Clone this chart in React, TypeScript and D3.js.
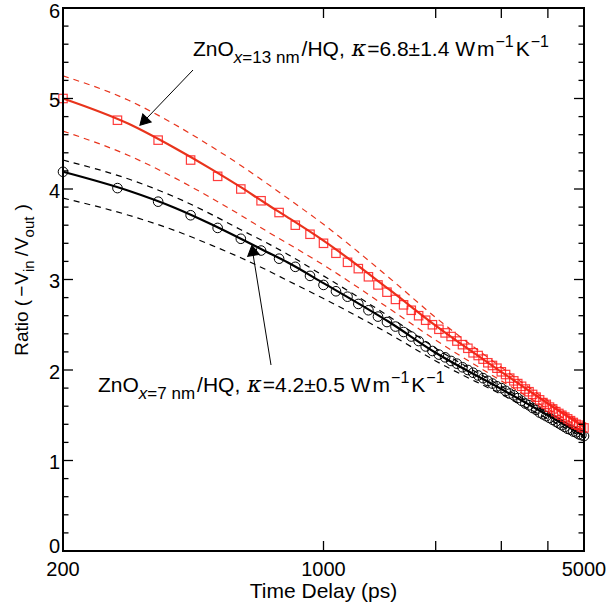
import React from 'react';
import * as d3 from 'd3';

// measured points, 80 ps steps
const timeDelay = [
  200, 280, 360, 440, 520, 600, 680, 760, 840, 920, 1000, 1080, 1160, 1240, 1320, 1400,
  1480, 1560, 1640, 1720, 1800, 1880, 1960, 2040, 2120, 2200, 2280, 2360, 2440, 2520,
  2600, 2680, 2760, 2840, 2920, 3000, 3080, 3160, 3240, 3320, 3400, 3480, 3560, 3640,
  3720, 3800, 3880, 3960, 4040, 4120, 4200, 4280, 4360, 4440, 4520, 4600, 4680, 4760,
  4840, 4920, 5000,
];
const ratio13nm = [
  5.0, 4.76, 4.54, 4.32, 4.14, 4.0, 3.87, 3.74, 3.6, 3.5, 3.4, 3.29, 3.19, 3.12, 3.03, 2.94,
  2.86, 2.78, 2.72, 2.66, 2.6, 2.55, 2.5, 2.45, 2.41, 2.37, 2.32, 2.28, 2.24, 2.19,
  2.16, 2.12, 2.08, 2.05, 2.02, 1.98, 1.95, 1.91, 1.88, 1.85, 1.82, 1.79, 1.76, 1.73,
  1.7, 1.67, 1.64, 1.62, 1.59, 1.57, 1.54, 1.52, 1.5, 1.48, 1.46, 1.44, 1.42, 1.4,
  1.39, 1.37, 1.36,
];
const ratio7nm = [
  4.19, 4.01, 3.86, 3.71, 3.57, 3.45, 3.32, 3.23, 3.14, 3.04, 2.94, 2.87, 2.81, 2.73, 2.66, 2.59,
  2.53, 2.48, 2.42, 2.37, 2.32, 2.26, 2.21, 2.17, 2.14, 2.1, 2.07, 2.03, 2.0, 1.97,
  1.94, 1.91, 1.88, 1.85, 1.82, 1.8, 1.77, 1.74, 1.72, 1.69, 1.66, 1.63, 1.61, 1.58,
  1.56, 1.53, 1.51, 1.49, 1.47, 1.45, 1.43, 1.41, 1.39, 1.37, 1.35, 1.34, 1.32, 1.31,
  1.29, 1.28, 1.27,
];

// model curves
const fitTime = [200, 300, 400, 500, 600, 700, 800, 1000, 1500, 2000, 3000, 4000, 5000];
const fit13 = [5.0, 4.72, 4.45, 4.22, 4.02, 3.84, 3.69, 3.43, 2.89, 2.49, 1.98, 1.63, 1.37];
const fit13Hi = [5.25, 4.98, 4.71, 4.47, 4.26, 4.07, 3.9, 3.61, 3.02, 2.58, 2.03, 1.66, 1.39];
const fit13Lo = [4.64, 4.37, 4.12, 3.9, 3.71, 3.54, 3.4, 3.16, 2.68, 2.33, 1.88, 1.57, 1.34];
const fit7 = [4.19, 3.98, 3.79, 3.61, 3.45, 3.31, 3.19, 2.96, 2.53, 2.19, 1.79, 1.5, 1.27];
const fit7Hi = [4.32, 4.11, 3.91, 3.72, 3.55, 3.41, 3.28, 3.04, 2.59, 2.24, 1.82, 1.52, 1.28];
const fit7Lo = [3.9, 3.71, 3.54, 3.38, 3.24, 3.11, 2.99, 2.79, 2.4, 2.1, 1.73, 1.46, 1.25];

const xTicks = [1000, 2000, 3000, 4000, 5000];
const xTickLabels = ['200', '1000', '5000'];
const yTicks = [0, 1, 2, 3, 4, 5, 6];

const W = 607;
const H = 611;
const margin = { top: 8, right: 23, bottom: 60, left: 63 };
const font = '"Liberation Sans", Arial, Helvetica, sans-serif';
const RED = '#ff1a1a';
const RED_LINE = '#e8341c';

function Annotation({ x, y, sub, value }: { x: number; y: number; sub: string; value: string }) {
  return (
    <text x={x} y={y} fontSize={21}>
      ZnO<tspan dy={7} fontSize={17}><tspan fontStyle="italic">x</tspan>={sub} nm</tspan>
      <tspan dy={-7} dx={2}>/HQ,</tspan>
      <tspan dx={7} fontSize={22} fontStyle="italic" fontFamily="'DejaVu Serif', serif">κ</tspan>
      <tspan dx={1}>={value} W</tspan><tspan dx={2}>m</tspan>
      <tspan dy={-9} dx={1} fontSize={16}>−1</tspan>
      <tspan dy={9} dx={2}>K</tspan>
      <tspan dy={-9} dx={1} fontSize={16}>−1</tspan>
    </text>
  );
}

export default function App() {
  const x = d3.scaleLog().domain([200, 5000]).range([margin.left, W - margin.right]);
  const y = d3.scaleLinear().domain([0, 6]).range([H - margin.bottom, margin.top]);
  const x0 = x.range()[0], x1 = x.range()[1];
  const y0 = y.range()[0], y1 = y.range()[1];

  const line = d3.line<[number, number]>()
    .x((d) => x(d[0]))
    .y((d) => y(d[1]))
    .curve(d3.curveMonotoneX);
  const path = (vals: number[]) => line(fitTime.map((t, i) => [t, vals[i]]) as [number, number][]) || '';

  const minorY = d3.range(0, 6.001, 0.2).filter((v) => Math.abs(v - Math.round(v)) > 0.01);
  const tri = d3.symbol().type(d3.symbolTriangle).size(60)() || '';

  return (
    <svg width={W} height={H} style={{ position: 'absolute', left: 0, top: 0, background: '#fff' }} fontFamily={font}>
      {/* dashed bounds */}
      <g fill="none" strokeWidth={1.2} strokeDasharray="6,5">
        <path d={path(fit13Hi)} stroke={RED_LINE} />
        <path d={path(fit13Lo)} stroke={RED_LINE} />
        <path d={path(fit7Hi)} stroke="#000" />
        <path d={path(fit7Lo)} stroke="#000" />
      </g>
      {/* best fits */}
      <path d={path(fit7)} fill="none" stroke="#000" strokeWidth={2.2} />
      <path d={path(fit13)} fill="none" stroke={RED_LINE} strokeWidth={2.2} />

      {/* markers */}
      <g fill="none" stroke="#000" strokeWidth={1}>
        {timeDelay.map((t, i) => (
          <circle key={i} cx={x(t)} cy={y(ratio7nm[i])} r={4.8} />
        ))}
      </g>
      <g fill="none" stroke={RED} strokeWidth={1.2} strokeOpacity={0.85}>
        {timeDelay.map((t, i) => (
          <rect key={i} x={x(t) - 4.2} y={y(ratio13nm[i]) - 4.2} width={8.4} height={8.4} />
        ))}
      </g>

      {/* axes box */}
      <rect x={x0} y={y1} width={x1 - x0} height={y0 - y1} fill="none" stroke="#000" strokeWidth={2} />
      <g stroke="#000" strokeWidth={1.3}>
        {yTicks.map((v) => (
          <g key={'y' + v}>
            <line x1={x0} x2={x0 + 10} y1={y(v)} y2={y(v)} />
            <line x1={x1} x2={x1 - 10} y1={y(v)} y2={y(v)} />
          </g>
        ))}
        {minorY.map((v, i) => (
          <g key={'m' + i}>
            <line x1={x0} x2={x0 + 5.5} y1={y(v)} y2={y(v)} />
            <line x1={x1} x2={x1 - 5.5} y1={y(v)} y2={y(v)} />
          </g>
        ))}
        {xTicks.map((v) => (
          <g key={'x' + v}>
            <line x1={x(v)} x2={x(v)} y1={y0} y2={y0 - 10} />
            <line x1={x(v)} x2={x(v)} y1={y1} y2={y1 + 10} />
          </g>
        ))}
      </g>

      {/* tick labels */}
      <g fontSize={20} fill="#000">
        {yTicks.map((v) => (
          <text key={v} x={x0 - 3} y={y(v) + (v === 0 ? 2 : v === 6 ? 10 : 8.5)} textAnchor="end">{v}</text>
        ))}
        {xTickLabels.map((s) => (
          <text key={s} x={x(+s)} y={y0 + 25} textAnchor="middle">{s}</text>
        ))}
      </g>

      {/* axis titles */}
      <text x={(x0 + x1) / 2} y={H - 13} textAnchor="middle" fontSize={21}>Time Delay (ps)</text>
      <text transform={`translate(28, 280) rotate(-90)`} textAnchor="middle" fontSize={19}>
        Ratio (<tspan dx={3}>−</tspan><tspan dx={1}>V</tspan><tspan dy={6} fontSize={15}>in</tspan>
        <tspan dy={-6} dx={4}>/</tspan><tspan dx={1}>V</tspan><tspan dy={6} fontSize={15}>out</tspan>
        <tspan dy={-6} dx={6}>)</tspan>
      </text>

      {/* annotations */}
      <g stroke="#000" strokeWidth={1} fill="#000">
        <line x1={193} y1={70} x2={147} y2={118} />
        <path d={tri} transform={`translate(146,119) rotate(-136) translate(0,-2)`} />
        <line x1={271} y1={365} x2={253} y2={254} />
        <path d={tri} transform={`translate(253,252) rotate(-9)`} />
      </g>
      <Annotation x={193} y={56} sub="13" value="6.8±1.4" />
      <Annotation x={98} y={392} sub="7" value="4.2±0.5" />
    </svg>
  );
}
